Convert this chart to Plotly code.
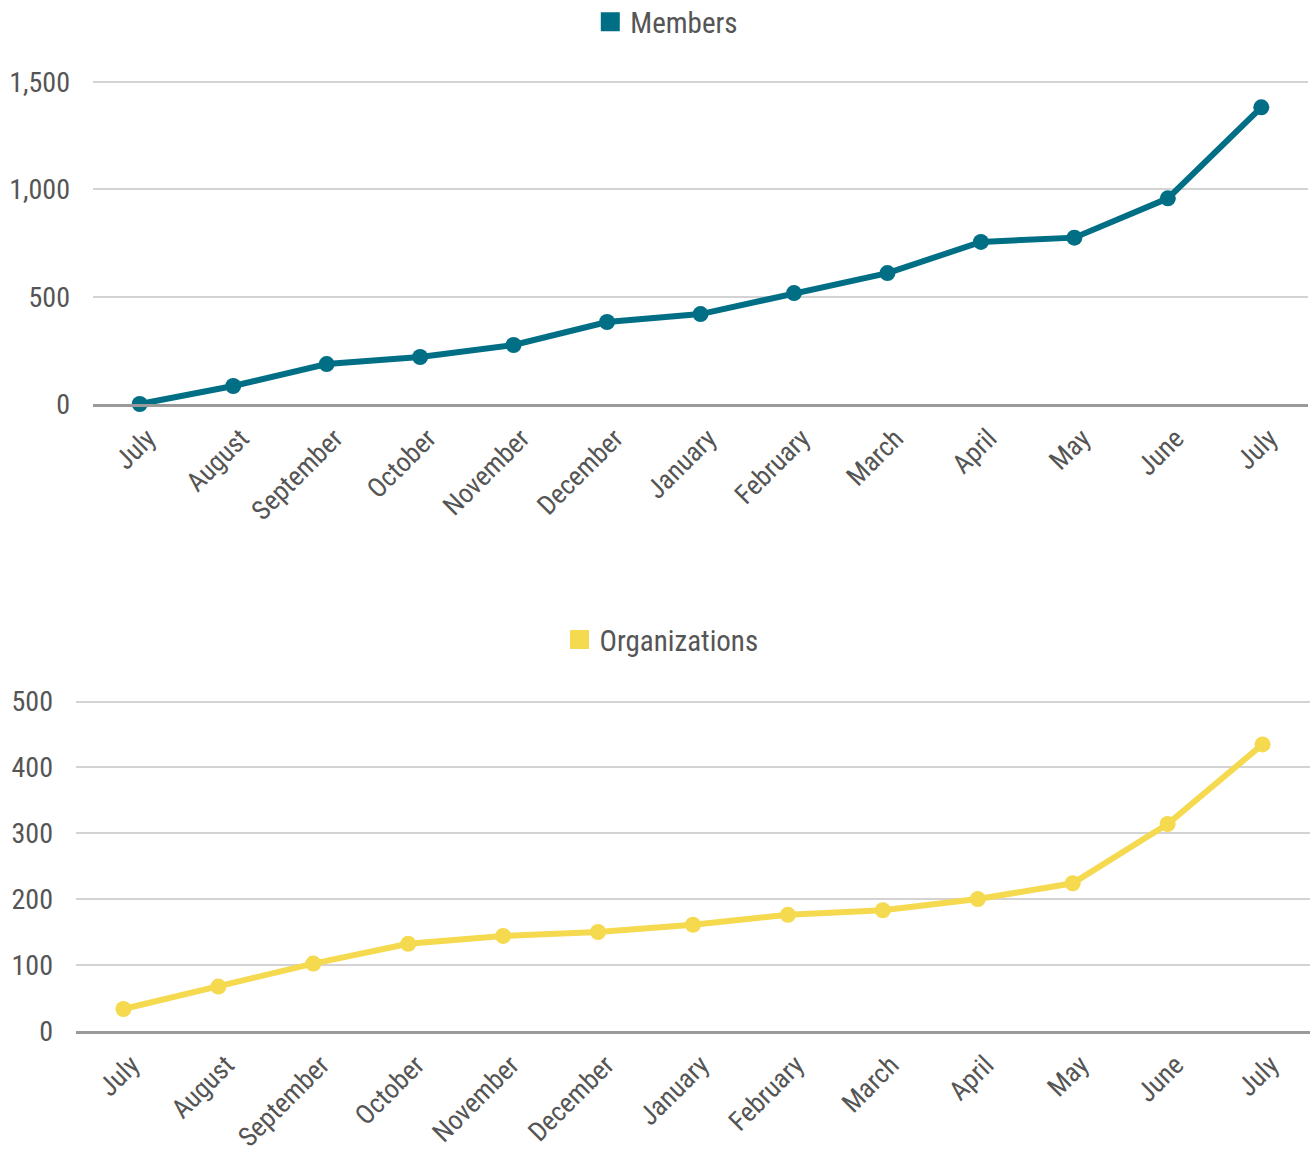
import plotly.graph_objects as go

months = ["July", "August", "September", "October", "November", "December",
          "January", "February", "March", "April", "May", "June", "July"]
members = [0, 84, 186, 219, 275, 382, 419, 517, 610, 755, 775, 958, 1382]
organizations = [33, 67, 102, 132, 144, 150, 161, 176, 183, 200, 224, 314, 435]
members_ticks = [0, 500, 1000, 1500]
org_ticks = [0, 100, 200, 300, 400, 500]

TEAL = "#006F86"
YELLOW = "#F5D94E"
TXT = "#555555"
GRID = "#D3D3D3"
AXIS = "#9A9A9A"
FONT = "Liberation Sans Narrow, Roboto Condensed, Roboto, sans-serif"

xs = list(range(len(months)))

fig = go.Figure()

fig.add_trace(go.Scatter(x=xs, y=members, mode="lines+markers",
                         line=dict(color=TEAL, width=6),
                         marker=dict(color=TEAL, size=16),
                         cliponaxis=False, showlegend=False,
                         xaxis="x", yaxis="y"))
fig.add_trace(go.Scatter(x=[None], y=[None], mode="markers", name="Members",
                         marker=dict(color=TEAL, symbol="square", size=16,
                                     line=dict(color=TEAL, width=3)),
                         legend="legend", xaxis="x", yaxis="y"))

fig.add_trace(go.Scatter(x=xs, y=organizations, mode="lines+markers",
                         line=dict(color=YELLOW, width=6),
                         marker=dict(color=YELLOW, size=16),
                         cliponaxis=False, showlegend=False,
                         xaxis="x2", yaxis="y2"))
fig.add_trace(go.Scatter(x=[None], y=[None], mode="markers", name="Organizations",
                         marker=dict(color=YELLOW, symbol="square", size=16,
                                     line=dict(color=YELLOW, width=3)),
                         legend="legend2", xaxis="x2", yaxis="y2"))

xcommon = dict(tickmode="array", tickvals=xs, ticktext=months, tickangle=-45,
               range=[-0.5, len(months) - 0.5], showgrid=False, zeroline=False,
               showline=True, linecolor=AXIS, linewidth=2.5, automargin=False,
               ticklabelshift=8, ticklabelstandoff=5,
               tickfont=dict(family=FONT, size=27, color=TXT), ticks="")
ycommon = dict(showgrid=True, gridcolor=GRID, gridwidth=1.5, zeroline=False,
               showline=False, ticks="", ticklabelstandoff=22, automargin=False,
               tickfont=dict(family=FONT, size=28, color=TXT))

fig.update_layout(
    width=1310, height=1159,
    margin=dict(l=0, r=0, t=0, b=0, autoexpand=False),
    paper_bgcolor="white", plot_bgcolor="white",
    font=dict(family=FONT, color=TXT),
    xaxis=dict(domain=[0.0710, 0.9985], anchor="y", **xcommon),
    yaxis=dict(domain=[0.6514, 0.9385], anchor="x", range=[0, 1550],
               tickvals=members_ticks, tickformat=",", **ycommon),
    xaxis2=dict(domain=[0.0580, 1.0], anchor="y2", **xcommon),
    yaxis2=dict(domain=[0.1107, 0.4060], anchor="x2", range=[0, 520],
                tickvals=org_ticks, **ycommon),
    legend=dict(x=0.509, y=0.981, xanchor="center", yanchor="middle",
                orientation="h", font=dict(family=FONT, size=29, color=TXT),
                bgcolor="rgba(0,0,0,0)"),
    legend2=dict(x=0.505, y=0.448, xanchor="center", yanchor="middle",
                 orientation="h", font=dict(family=FONT, size=29, color=TXT),
                 bgcolor="rgba(0,0,0,0)"),
)

fig.write_html("out.html", config={"displayModeBar": False},
               post_script="document.body.style.margin='0';document.body.style.overflow='hidden';")
